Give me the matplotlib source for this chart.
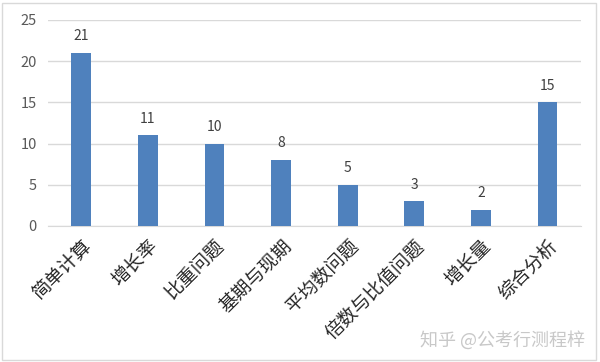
import matplotlib.pyplot as plt
from matplotlib.patches import Rectangle

plt.rcParams['font.family'] = ['Noto Sans CJK SC', 'DejaVu Sans']

categories = ["简单计算", "增长率", "比重问题", "基期与现期", "平均数问题", "倍数与比值问题", "增长量", "综合分析"]
counts = [21, 11, 10, 8, 5, 3, 2, 15]
yticks = [0, 5, 10, 15, 20, 25]

fig = plt.figure(figsize=(6, 3.62), dpi=100)
ax = fig.add_axes([0.08, 0.3757, 0.888, 0.5691])

x = range(len(categories))
bars = ax.bar(x, counts, width=0.3, color="#4F81BD", zorder=3)
for b, v in zip(bars, counts):
    ax.annotate(str(v), (b.get_x() + b.get_width() / 2, v), xytext=(0, 7),
                textcoords="offset points", ha="center", va="bottom",
                fontsize=10, color="#404040")

ax.set_xlim(-0.5, len(categories) - 0.5)
ax.set_ylim(0, 25)
ax.set_yticks(yticks)
ax.yaxis.grid(True, color="#D9D9D9", linewidth=1, zorder=0)
ax.set_xticks(list(x))
ax.set_xticklabels(categories, rotation=45, ha="right", rotation_mode="anchor",
                   fontsize=13.5, color="#262626")
for s in ["top", "right", "left"]:
    ax.spines[s].set_visible(False)
ax.spines["bottom"].set_color("#D9D9D9")
ax.tick_params(axis="both", length=0)
ax.tick_params(axis="y", labelsize=10.5, colors="#595959", pad=8)
ax.tick_params(axis="x", pad=7)

# outer chart border
fig.patches.append(Rectangle((0.004, 0.006), 0.99, 0.986, transform=fig.transFigure,
                             fill=False, edgecolor="#D9D9D9", linewidth=1))

fig.text(0.975, 0.035, "知乎 @公考行测程梓", ha="right", va="bottom",
         fontsize=13, color="#C8C8C8")

fig.savefig("out.png", dpi=100)
